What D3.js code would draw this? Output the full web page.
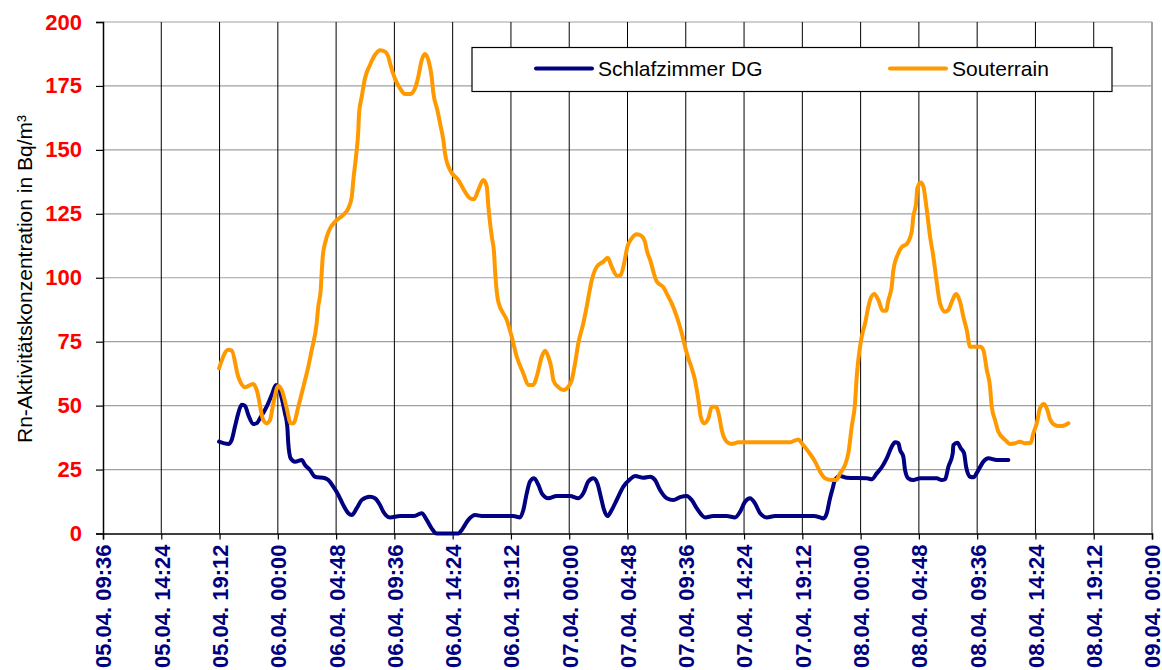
<!DOCTYPE html>
<html>
<head>
<meta charset="utf-8">
<script src="https://cdn.jsdelivr.net/npm/d3@7"></script>
<style>
  body { margin: 0; background: #fff; }
  svg { display: block; font-family: "Liberation Sans", Arial, sans-serif; }
</style>
</head>
<body>
<div id="chart"></div>
<script>
/* Radon concentration, two rooms, 05.04. - 09.04. */

// time axis is in hours counted from 05.04. 00:00
const tickHours = d3.range(19).map(i => 9.6 + i * 4.8);
const tickLabels = ["05.04. 09:36", "05.04. 14:24", "05.04. 19:12", "06.04. 00:00", "06.04. 04:48",
    "06.04. 09:36", "06.04. 14:24", "06.04. 19:12", "07.04. 00:00", "07.04. 04:48", "07.04. 09:36",
    "07.04. 14:24", "07.04. 19:12", "08.04. 00:00", "08.04. 04:48", "08.04. 09:36", "08.04. 14:24",
    "08.04. 19:12", "09.04. 00:00"];
const yTicks = [0, 25, 50, 75, 100, 125, 150, 175, 200];
const seriesNames = ["Schlafzimmer DG", "Souterrain"];
const seriesColors = ["#000080", "#FF9900"];

// [hour, Bq/m³]
const schlafzimmer = [
  [19.16,35.9],[19.92,35.0],[20.20,36.6],[20.47,41.8],[20.74,47.0],[21.02,50.3],[21.30,49.9],
  [21.57,46.3],[21.98,42.8],[22.26,43.1],[22.53,45.0],[23.08,49.6],[23.50,54.2],[23.85,58.1],
  [24.04,57.4],[24.32,52.9],[24.59,47.0],[24.78,41.8],[24.86,35.3],[25.06,29.4],[25.42,28.1],
  [25.97,28.7],[26.24,26.8],[26.65,24.8],[27.06,22.2],[27.89,21.6],[28.16,20.9],[28.57,18.3],
  [28.98,15.1],[29.39,11.1],[29.81,7.9],[30.09,7.2],[30.50,9.9],[30.91,13.1],[31.59,14.4],
  [32.00,13.8],[32.42,11.1],[32.69,8.5],[33.24,6.3],[34.06,6.8],[35.16,6.8],[35.85,7.9],
  [36.26,5.3],[36.67,2.0],[37.09,0],[37.91,0],[38.87,0],[39.15,1.4],[39.69,5.3],[40.24,7.2],
  [40.93,6.8],[41.75,6.8],[43.40,6.8],[43.95,6.3],[44.22,9.2],[44.50,15.7],[44.77,20.3],
  [45.10,21.6],[45.46,19.0],[45.74,15.7],[46.28,13.8],[46.97,14.7],[48.07,14.7],[48.75,13.8],
  [49.16,15.7],[49.57,20.3],[49.99,21.6],[50.32,19.6],[50.60,14.4],[50.87,9.2],[51.14,6.8],
  [51.50,9.2],[51.91,13.1],[52.46,18.3],[53.01,21.2],[53.42,22.5],[54.10,21.8],[54.66,22.2],
  [55.07,20.9],[55.48,17.0],[56.03,13.8],[56.58,13.1],[57.13,14.2],[57.68,14.7],[58.09,13.1],
  [58.50,9.9],[59.19,6.3],[59.87,6.8],[60.97,6.8],[61.66,6.3],[62.07,8.5],[62.48,12.4],
  [62.89,13.8],[63.30,11.8],[63.72,7.9],[64.27,6.3],[64.95,6.8],[68.11,6.8],[68.66,6.3],
  [68.93,5.9],[69.21,7.9],[69.48,13.8],[69.70,17.7],[69.89,20.9],[70.31,22.5],[70.86,21.8],
  [72.51,21.6],[72.92,21.2],[73.33,23.5],[73.74,25.9],[74.15,29.4],[74.56,33.9],[74.84,35.7],
  [75.11,35.3],[75.25,32.7],[75.52,30.0],[75.66,24.8],[75.93,21.6],[76.34,20.9],[76.90,21.6],
  [78.27,21.6],[78.68,20.9],[78.96,21.2],[79.23,26.1],[79.59,31.4],[79.64,34.6],[79.97,35.5],
  [80.25,33.3],[80.52,31.4],[80.69,26.1],[81.02,22.2],[81.29,22.0],[81.70,24.8],[82.11,28.1],
  [82.52,29.4],[83.21,28.7],[84.17,28.7]
];

const souterrain = [
  [19.16,64.6],[19.92,71.8],[20.20,71.5],[20.74,61.3],[21.30,57.2],[21.98,58.5],[22.26,56.1],
  [22.80,44.4],[23.08,43.1],[23.36,44.4],[23.63,50.9],[24.04,57.7],[24.32,56.1],[24.73,49.0],
  [25.06,43.1],[25.28,43.1],[25.69,49.6],[25.97,54.8],[26.24,60.0],[26.51,65.2],[26.79,71.7],
  [27.20,82.2],[27.33,88.7],[27.53,95.2],[27.61,101.7],[27.70,108.3],[27.89,113.5],[28.24,118.7],
  [28.71,121.9],[29.39,124.6],[29.81,127.2],[30.09,131.7],[30.22,138.3],[30.44,147.4],
  [30.63,157.8],[30.69,164.3],[30.91,170.8],[31.18,178.0],[31.59,183.2],[32.00,187.1],
  [32.42,189.0],[32.83,188.4],[33.10,186.5],[33.24,183.9],[33.65,177.8],[34.06,174.1],
  [34.48,171.8],[34.89,171.8],[35.30,174.1],[35.57,178.6],[35.85,185.1],[36.12,187.5],
  [36.40,185.1],[36.67,178.6],[36.81,172.2],[37.14,165.6],[37.36,160.4],[37.63,153.9],
  [37.77,148.7],[38.18,142.1],[38.87,138.2],[39.42,133.6],[39.83,131.1],[40.16,130.7],
  [40.51,134.3],[40.93,138.2],[41.21,135.6],[41.34,127.8],[41.62,116.1],[41.81,109.6],
  [41.89,103.0],[42.16,90.6],[42.85,83.5],[43.26,77.0],[43.68,69.1],[44.22,62.6],[44.63,58.1],
  [45.04,58.1],[45.32,61.3],[45.74,69.1],[46.01,71.5],[46.28,69.1],[46.56,64.0],[46.69,60.0],
  [47.10,57.2],[47.52,56.1],[47.93,57.4],[48.21,60.0],[48.48,66.5],[48.75,74.4],[49.16,82.2],
  [49.44,88.7],[49.86,99.1],[50.27,104.3],[50.81,106.3],[51.17,107.8],[51.50,104.3],
  [51.96,100.7],[52.24,101.1],[52.52,105.6],[52.79,112.1],[53.15,115.4],[53.56,117.0],
  [53.97,116.3],[54.24,114.1],[54.38,110.9],[54.71,106.3],[54.93,102.4],[55.21,98.5],
  [55.75,96.3],[56.16,92.6],[56.44,90.0],[56.86,84.8],[57.27,78.3],[57.54,73.0],[57.81,68.5],
  [58.09,64.6],[58.36,60.0],[58.64,52.2],[58.83,45.7],[59.10,43.1],[59.46,45.0],[59.74,49.6],
  [60.09,49.6],[60.36,45.7],[60.56,40.5],[60.97,35.9],[61.39,35.0],[61.93,35.7],[66.19,35.7],
  [66.87,36.8],[67.15,35.3],[67.70,32.0],[68.25,28.1],[68.66,24.2],[69.07,21.6],[69.62,20.9],
  [69.98,20.9],[70.31,23.5],[70.72,26.8],[70.99,31.4],[71.27,41.8],[71.54,50.9],[71.68,61.3],
  [71.81,67.8],[72.09,77.0],[72.37,82.2],[72.64,88.7],[72.78,91.3],[73.13,93.6],[73.46,91.3],
  [73.82,87.1],[74.10,87.1],[74.29,91.3],[74.56,96.5],[74.70,103.0],[75.11,109.6],[75.39,112.0],
  [75.80,113.2],[76.21,118.0],[76.34,123.9],[76.57,129.1],[76.67,135.0],[76.95,137.2],
  [77.17,135.6],[77.45,126.5],[77.72,116.1],[77.99,108.3],[78.21,100.4],[78.54,90.0],
  [78.96,86.7],[79.23,87.4],[79.51,90.6],[79.86,93.6],[80.19,90.6],[80.46,84.8],[80.74,79.6],
  [81.02,73.0],[81.84,73.0],[82.11,71.7],[82.39,64.0],[82.66,57.4],[82.80,49.6],[83.07,44.4],
  [83.35,39.8],[83.90,36.6],[84.31,35.0],[84.72,35.3],[85.13,35.9],[85.54,35.3],[86.01,35.5],
  [86.23,39.2],[86.51,43.1],[86.78,49.0],[87.11,50.6],[87.38,48.3],[87.60,44.7],[88.02,42.4],
  [88.43,42.0],[88.84,42.4],[89.11,43.1]
];

const width = 1162,
      height = 670,
      margin = ({ top: 22, right: 10, bottom: 136.5, left: 103 });

let svg = d3.select("#chart")
    .append("svg")
    .attr("width", width)
    .attr("height", height);

let x = d3.scaleLinear()
    .domain([tickHours[0], tickHours[tickHours.length - 1]])
    .range([margin.left, width - margin.right]);

let y = d3.scaleLinear()
    .domain([0, 200])
    .range([height - margin.bottom, margin.top]);

// horizontal grid (grey)
svg.append("g")
    .selectAll("line")
    .data(yTicks.slice(1))
    .join("line")
    .attr("x1", x.range()[0])
    .attr("x2", x.range()[1])
    .attr("y1", d => y(d))
    .attr("y2", d => y(d))
    .attr("stroke", "#a0a0a0")
    .attr("stroke-width", 1.2);

// vertical grid (black)
svg.append("g")
    .selectAll("line")
    .data(tickHours.slice(1, -1))
    .join("line")
    .attr("x1", d => x(d))
    .attr("x2", d => x(d))
    .attr("y1", y(0))
    .attr("y2", y(200))
    .attr("stroke", "#000")
    .attr("stroke-width", 1);

// right border
svg.append("line")
    .attr("x1", x.range()[1]).attr("x2", x.range()[1])
    .attr("y1", y(0)).attr("y2", y(200))
    .attr("stroke", "#a0a0a0")
    .attr("stroke-width", 2);

// y axis
let yAxis = svg.append("g")
    .attr("transform", `translate(${margin.left},0)`)
    .call(d3.axisLeft(y).tickValues(yTicks).tickSize(7).tickPadding(14));
yAxis.select(".domain").attr("stroke", "#000").attr("stroke-width", 1.5);
yAxis.selectAll(".tick line").attr("stroke", "#000").attr("stroke-width", 1.2);
yAxis.selectAll(".tick text")
    .attr("fill", "#FF0000")
    .style("font-size", "22px")
    .style("font-weight", "bold")
    .style("font-family", "'Liberation Sans', Arial, sans-serif");

// x axis
let xAxis = svg.append("g")
    .attr("transform", `translate(0,${y(0)})`)
    .call(d3.axisBottom(x).tickValues(tickHours).tickSize(6).tickFormat((d, i) => tickLabels[i]));
xAxis.select(".domain").attr("stroke", "#000").attr("stroke-width", 1.5);
xAxis.selectAll(".tick line").attr("stroke", "#000").attr("stroke-width", 1.2);
xAxis.selectAll(".tick text")
    .attr("fill", "#000080")
    .attr("transform", "rotate(-90)")
    .attr("text-anchor", "end")
    .attr("x", -11)
    .attr("y", 0)
    .attr("dy", "0.36em")
    .style("font-size", "22px")
    .style("font-weight", "bold")
    .style("font-family", "'Liberation Sans', Arial, sans-serif");

// y axis title
svg.append("text")
    .attr("transform", `translate(25,279) rotate(-90)`)
    .attr("text-anchor", "middle")
    .attr("dy", "0.35em")
    .style("font-size", "21px")
    .attr("fill", "#000")
    .text("Rn-Aktivitätskonzentration in Bq/m³");

// lines
let line = d3.line()
    .x(d => x(d[0]))
    .y(d => y(d[1]))
    .curve(d3.curveMonotoneX);

[schlafzimmer, souterrain].forEach((s, i) => {
    svg.append("path")
        .datum(s)
        .attr("fill", "none")
        .attr("stroke", seriesColors[i])
        .attr("stroke-width", 4)
        .attr("stroke-linejoin", "round")
        .attr("stroke-linecap", "round")
        .attr("d", line);
});

// legend
let legend = svg.append("g");
legend.append("rect")
    .attr("x", 472).attr("y", 47.5)
    .attr("width", 640).attr("height", 44)
    .attr("fill", "#fff")
    .attr("stroke", "#000")
    .attr("stroke-width", 1.2);

let legendX = [536, 890];
seriesNames.forEach((name, i) => {
    legend.append("line")
        .attr("x1", legendX[i]).attr("x2", legendX[i] + 56)
        .attr("y1", 68.5).attr("y2", 68.5)
        .attr("stroke", seriesColors[i])
        .attr("stroke-width", 4)
        .attr("stroke-linecap", "round");
    legend.append("text")
        .attr("x", legendX[i] + 62)
        .attr("y", 68.5)
        .attr("dy", "0.35em")
        .style("font-size", "21px")
        .attr("fill", "#000")
        .text(name);
});
</script>
</body>
</html>
